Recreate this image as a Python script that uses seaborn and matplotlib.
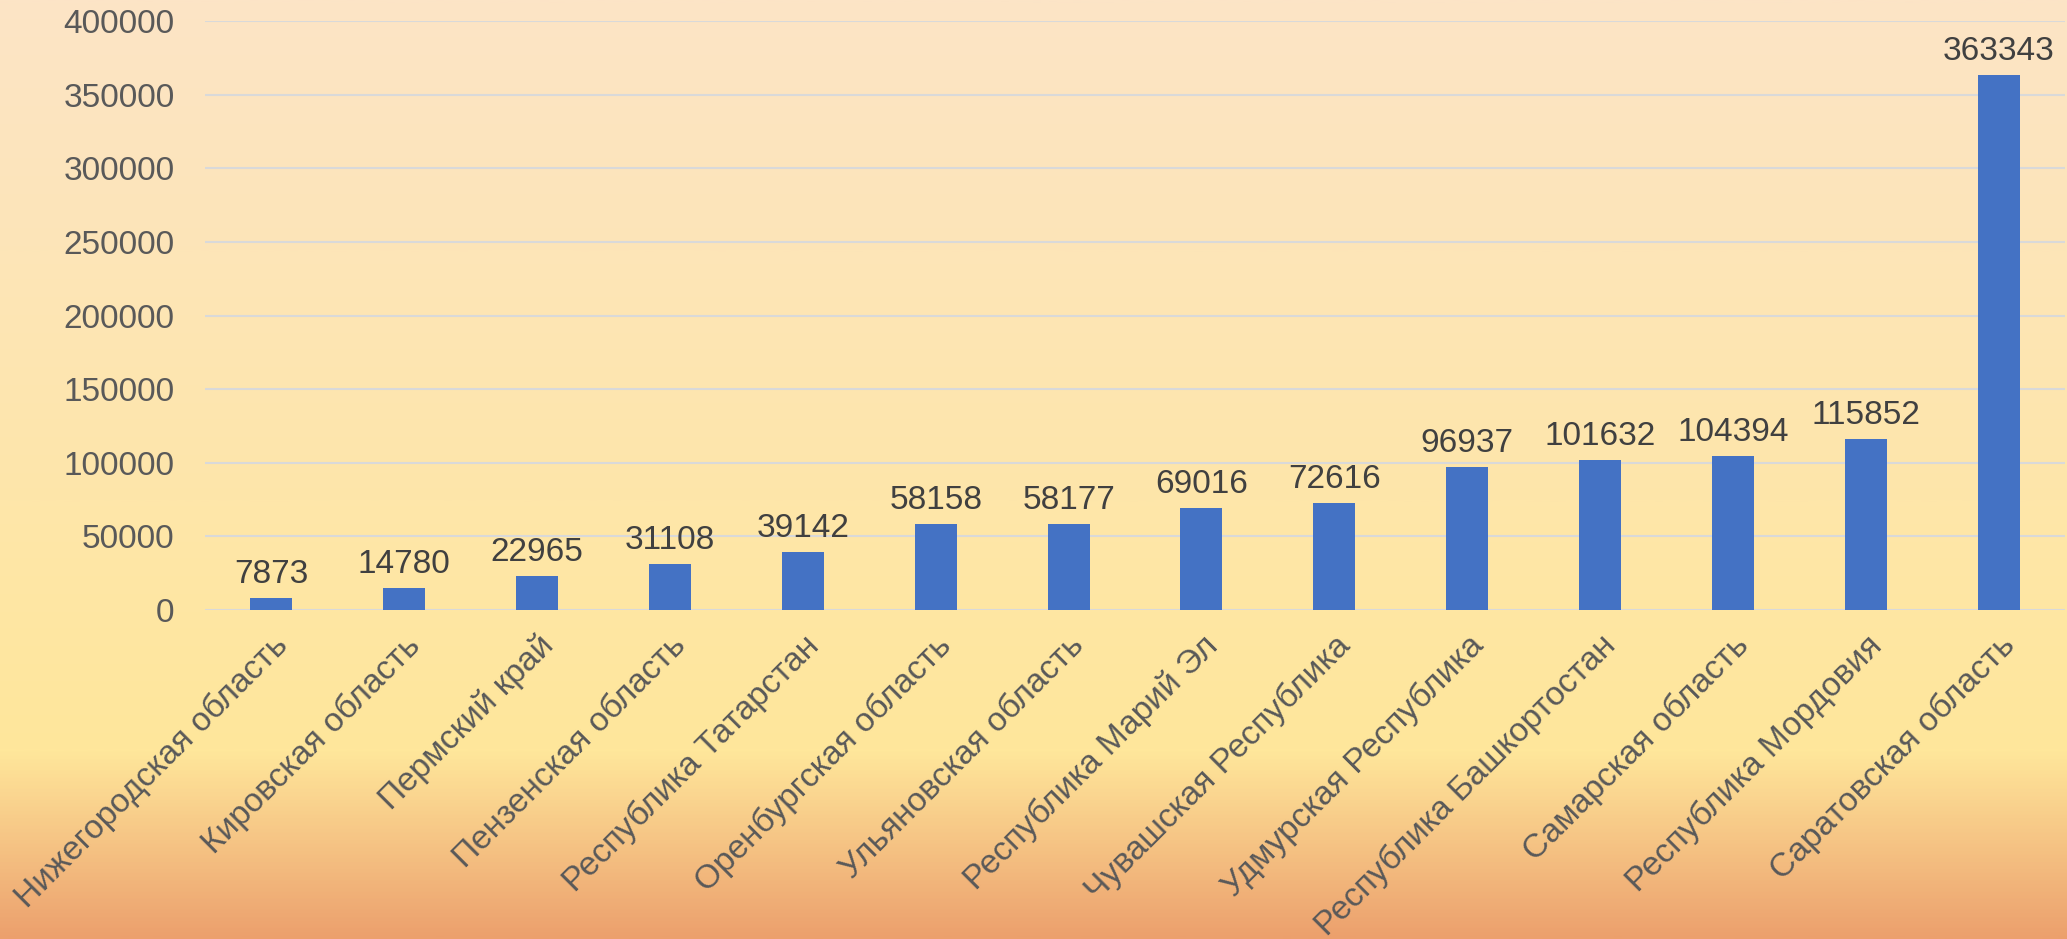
import numpy as np
import pandas as pd
import matplotlib
matplotlib.use("Agg")
import matplotlib.pyplot as plt
from matplotlib.colors import LinearSegmentedColormap
import seaborn as sns

regions = [
    "Нижегородская область",
    "Кировская область",
    "Пермский край",
    "Пензенская область",
    "Республика Татарстан",
    "Оренбургская область",
    "Ульяновская область",
    "Республика Марий Эл",
    "Чувашская Республика",
    "Удмурская Республика",
    "Республика Башкортостан",
    "Самарская область",
    "Республика Мордовия",
    "Саратовская область",
]
values = [7873, 14780, 22965, 31108, 39142, 58158, 58177, 69016, 72616,
          96937, 101632, 104394, 115852, 363343]
yticks = [0, 50000, 100000, 150000, 200000, 250000, 300000, 350000, 400000]

df = pd.DataFrame({"region": regions, "value": values})

sns.set_theme(style="white")
plt.rcParams["font.family"] = ["Liberation Sans", "DejaVu Sans"]

fig = plt.figure(figsize=(20.67, 9.39), dpi=100)

# gradient background
bg = fig.add_axes([0, 0, 1, 1], zorder=-10)
cmap = LinearSegmentedColormap.from_list(
    "bg", [(0, "#fce4c6"), (0.80, "#ffe79b"), (1.0, "#eca06d")])
grad = np.linspace(0, 1, 512).reshape(-1, 1)
bg.imshow(grad, aspect="auto", cmap=cmap, extent=[0, 1, 0, 1], origin="upper")
bg.axis("off")

ax = fig.add_axes([205 / 2067, 1 - 610 / 939, 1860 / 2067, (610 - 21) / 939])
ax.patch.set_alpha(0)

sns.barplot(data=df, x="region", y="value", color="#4472c4", width=0.316,
            saturation=1, linewidth=0, ax=ax, zorder=3)

for i, v in enumerate(values):
    ax.annotate(str(v), (i, v), xytext=(0, 6), textcoords="offset points",
                ha="center", va="bottom", fontsize=24, color="#404040")

ax.set_ylim(0, 400000)
ax.set_yticks(yticks)
ax.set_yticklabels([str(t) for t in yticks], fontsize=24, color="#595959")
ax.set_xlim(-0.5, len(regions) - 0.5)
ax.set_xticks(range(len(regions)))
ax.set_xticklabels(regions, rotation=45, ha="right", rotation_mode="anchor",
                   fontsize=24, color="#595959")
ax.tick_params(axis="x", pad=14, length=0)
ax.tick_params(axis="y", pad=22, length=0)
ax.grid(axis="y", color="#d9d9d9", linewidth=1.5, zorder=0)
ax.set_xlabel("")
ax.set_ylabel("")
for s in ax.spines.values():
    s.set_visible(False)

fig.savefig("out.png", dpi=100)
